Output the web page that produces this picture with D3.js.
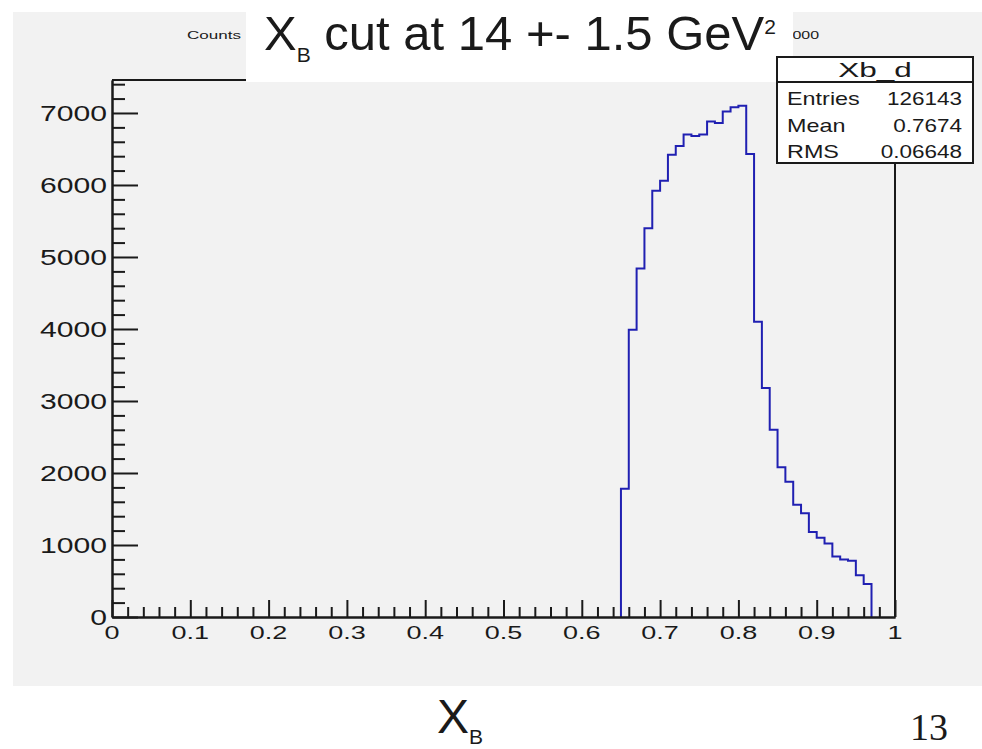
<!DOCTYPE html>
<html>
<head>
  <meta charset="utf-8">
  <style>
    body { margin: 0; background: #fff; }
    svg { display: block; }
    text { font-family: "Liberation Sans", Arial, sans-serif; fill: #1a1a1a; }
  </style>
</head>
<body>
<script src="https://d3js.org/d3.v7.min.js"></script>
<script>

// histogram bins (low edge, bin width 0.01) and counts
var binLow = [0.65, 0.66, 0.67, 0.68, 0.69, 0.70, 0.71, 0.72, 0.73, 0.74, 0.75,
              0.76, 0.77, 0.78, 0.79, 0.80, 0.81, 0.82, 0.83, 0.84, 0.85, 0.86,
              0.87, 0.88, 0.89, 0.90, 0.91, 0.92, 0.93, 0.94, 0.95, 0.96];
var counts = [1780, 3990, 4840, 5400, 5920, 6060, 6420, 6540, 6700, 6680, 6700,
              6880, 6860, 7020, 7080, 7100, 6430, 4100, 3180, 2600, 2080, 1880,
              1560, 1440, 1180, 1100, 1020, 840, 800, 780, 580, 460];
var binWidth = 0.01;

var xTicks = [0, 0.1, 0.2, 0.3, 0.4, 0.5, 0.6, 0.7, 0.8, 0.9, 1];
var xTickLabels = ["0", "0.1", "0.2", "0.3", "0.4", "0.5", "0.6", "0.7", "0.8", "0.9", "1"];
var yTicks = [0, 1000, 2000, 3000, 4000, 5000, 6000, 7000];
var yTickLabels = ["0", "1000", "2000", "3000", "4000", "5000", "6000", "7000"];

var statsTitle = "Xb_d";
var statNames = ["Entries", "Mean", "RMS"];
var statValues = ["126143", "0.7674", "0.06648"];

var W = 982, H = 749;
var svg = d3.select("body").append("svg")
            .attr("width", W)
            .attr("height", H);

// ROOT canvas grey
svg.append("rect")
   .attr("x", 13).attr("y", 12)
   .attr("width", W - 13).attr("height", 686 - 12)
   .attr("fill", "#f2f2f2");

var x = d3.scaleLinear().domain([0, 1]).range([112, 895]);
var y = d3.scaleLinear().domain([0, 7458]).range([617, 80]);

// stretched text helper (the screenshot is squeezed wider than tall)
function stext(g, px, py, str, size, sx, anchor) {
  return g.append("text")
          .attr("transform", "translate(" + px + "," + py + ") scale(" + sx + ",1)")
          .attr("font-size", size)
          .attr("text-anchor", anchor || "start")
          .text(str);
}

// frame
var frame = svg.append("g")
               .attr("fill", "none")
               .attr("stroke", "#1a1a1a")
               .attr("stroke-width", 2);
frame.append("line").attr("x1", x(0)).attr("x2", x(1)).attr("y1", y(7458)).attr("y2", y(7458));
frame.append("line").attr("x1", x(1)).attr("x2", x(1)).attr("y1", y(7458)).attr("y2", y(0));

// histogram outline
var pts = [{x: binLow[0], v: 0}];
binLow.forEach(function(b, i) { pts.push({x: b, v: counts[i]}); });
var lastEdge = binLow[binLow.length - 1] + binWidth;
pts.push({x: lastEdge, v: counts[counts.length - 1]});
pts.push({x: lastEdge, v: 0});

var histLine = d3.line()
                 .x(function(d) { return x(d.x); })
                 .y(function(d) { return y(d.v); })
                 .curve(d3.curveStepAfter);

svg.append("path")
   .attr("d", histLine(pts))
   .attr("fill", "none")
   .attr("stroke", "#2020b2")
   .attr("stroke-width", 2);

// axes, ticks pointing inward like ROOT
var xMinor = d3.range(0, 1.0001, 0.02).filter(function(v) { return Math.abs(v * 10 - Math.round(v * 10)) > 1e-6; });
var yMinor = d3.range(0, 7458, 200).filter(function(v) { return v % 1000 !== 0; });

function styleAxis(g) {
  g.selectAll("text").remove();
  g.select(".domain").attr("stroke", "#1a1a1a").attr("stroke-width", 2);
  g.selectAll(".tick line").attr("stroke", "#1a1a1a").attr("stroke-width", 2);
}

svg.append("g")
   .attr("transform", "translate(0," + y(0) + ")")
   .call(d3.axisBottom(x).tickValues(xTicks).tickSize(-17).tickSizeOuter(0))
   .call(styleAxis);
svg.append("g")
   .attr("transform", "translate(0," + y(0) + ")")
   .call(d3.axisBottom(x).tickValues(xMinor).tickSize(-10).tickSizeOuter(0))
   .call(styleAxis);
svg.append("g")
   .attr("transform", "translate(" + x(0) + ",0)")
   .call(d3.axisLeft(y).tickValues(yTicks).tickSize(-26).tickSizeOuter(0))
   .call(styleAxis);
svg.append("g")
   .attr("transform", "translate(" + x(0) + ",0)")
   .call(d3.axisLeft(y).tickValues(yMinor).tickSize(-13).tickSizeOuter(0))
   .call(styleAxis);

var labels = svg.append("g");
xTicks.forEach(function(t, i) {
  stext(labels, x(t), 639, xTickLabels[i], 18, 1.5, "middle");
});
yTicks.forEach(function(t, i) {
  stext(labels, 107, y(t) + 8, yTickLabels[i], 22, 1.37, "end");
});

// remains of the ROOT histogram title, mostly hidden by the slide title
stext(svg, 187, 39, "Counts", 11, 1.55, "start");
stext(svg, 819, 39, "000", 11, 1.45, "end");

// slide title box
svg.append("rect")
   .attr("x", 246).attr("y", 0)
   .attr("width", 793 - 246).attr("height", 82)
   .attr("fill", "#fff");

var title = svg.append("text")
               .attr("x", 264).attr("y", 50)
               .attr("font-size", 49);
title.append("tspan").text("X");
title.append("tspan").attr("font-size", 21).attr("dy", 12).text("B");
title.append("tspan").attr("dy", -12).text(" cut at 14 +- 1.5 GeV");
title.append("tspan").attr("font-size", 21).attr("dy", -16).text("2");

// stats box
var sb = svg.append("g");
sb.append("rect")
  .attr("x", 777).attr("y", 57)
  .attr("width", 973 - 777).attr("height", 163 - 57)
  .attr("fill", "#fff")
  .attr("stroke", "#1a1a1a")
  .attr("stroke-width", 2);
sb.append("line")
  .attr("x1", 777).attr("x2", 973)
  .attr("y1", 82).attr("y2", 82)
  .attr("stroke", "#1a1a1a")
  .attr("stroke-width", 2);
stext(sb, 875, 77, statsTitle, 21, 1.5, "middle");
statNames.forEach(function(n, i) {
  stext(sb, 787, 105 + i * 26.5, n, 18, 1.3, "start");
  stext(sb, 962, 105 + i * 26.5, statValues[i], 18, 1.25, "end");
});

// x axis caption below the canvas and page number
var xcap = svg.append("text")
              .attr("x", 437).attr("y", 733)
              .attr("font-size", 48);
xcap.append("tspan").text("X");
xcap.append("tspan").attr("font-size", 21).attr("dy", 11).text("B");

svg.append("text")
   .attr("x", 948).attr("y", 740)
   .attr("text-anchor", "end")
   .style("font-family", "'Liberation Serif', serif")
   .attr("font-size", 38)
   .text("13");

</script>
</body>
</html>
